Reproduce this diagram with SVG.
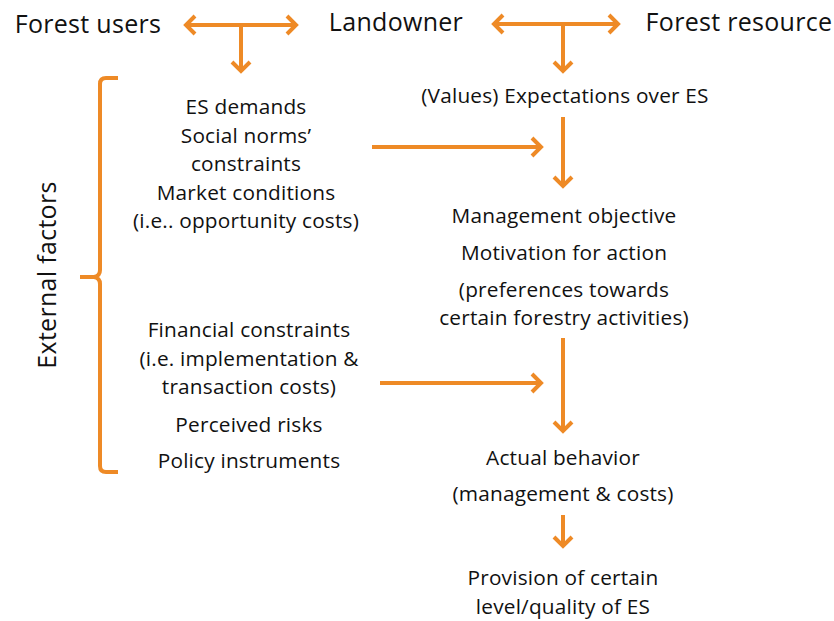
<svg xmlns="http://www.w3.org/2000/svg" width="834" height="621" viewBox="0 0 834 621">
<style>
text{font-family:"Open Sans","Noto Sans","DejaVu Sans",sans-serif;fill:#111;text-anchor:middle}
.big{font-size:25px;letter-spacing:0.3px}
.t{font-size:20.8px;letter-spacing:0.2px}
.c{stroke:#EE8A26;stroke-width:4;fill:none}
</style>
<defs>
<marker id="ah" viewBox="0 0 14 22" refX="11" refY="11" markerWidth="14" markerHeight="22" markerUnits="userSpaceOnUse" orient="auto-start-reverse">
<path d="M2,2 L11,11 L2,20" fill="none" stroke="#EE8A26" stroke-width="4"/>
</marker>
</defs>
<rect width="834" height="621" fill="#fff"/>
<g id="forest-users"><text class="big" x="88" y="33">Forest users</text></g>
<g id="landowner"><text class="big" x="396" y="31">Landowner</text></g>
<g id="forest-resource"><text class="big" x="739" y="31">Forest resource</text></g>
<g id="external-factors">
<path class="c" d="M118,78 H106 Q100,78 100,84 V270 Q100,276 94,277 H80 M94,277 Q100,278 100,284 V466 Q100,472 106,472 H118"/>
<text class="big" transform="translate(56,275) rotate(-90)">External factors</text>
</g>
<g id="drivers">
<text class="t" x="246" y="114">ES demands</text>
<text class="t" x="246" y="143">Social norms’</text>
<text class="t" x="246" y="171">constraints</text>
<text class="t" x="246" y="200">Market conditions</text>
<text class="t" x="246" y="228">(i.e.. opportunity costs)</text>
</g>
<g id="constraints">
<text class="t" x="249" y="337">Financial constraints</text>
<text class="t" x="249" y="366">(i.e. implementation &amp;</text>
<text class="t" x="249" y="394">transaction costs)</text>
<text class="t" x="249" y="432">Perceived risks</text>
<text class="t" x="249" y="468">Policy instruments</text>
</g>
<g id="expectations"><text class="t" x="565" y="103">(Values) Expectations over ES</text></g>
<g id="objective">
<text class="t" x="564" y="223">Management objective</text>
<text class="t" x="564" y="260">Motivation for action</text>
<text class="t" x="564" y="297">(preferences towards</text>
<text class="t" x="564" y="325">certain forestry activities)</text>
</g>
<g id="behavior">
<text class="t" x="563" y="465">Actual behavior</text>
<text class="t" x="563" y="501">(management &amp; costs)</text>
</g>
<g id="provision">
<text class="t" x="563" y="585">Provision of certain</text>
<text class="t" x="563" y="614">level/quality of ES</text>
</g>
<g id="connectors">
<line class="c" x1="186" y1="25" x2="296" y2="25" marker-start="url(#ah)" marker-end="url(#ah)"/>
<line class="c" x1="241" y1="25" x2="241" y2="71" marker-end="url(#ah)"/>
<line class="c" x1="494" y1="24" x2="618" y2="24" marker-start="url(#ah)" marker-end="url(#ah)"/>
<line class="c" x1="563" y1="24" x2="563" y2="71" marker-end="url(#ah)"/>
<line class="c" x1="563" y1="117" x2="563" y2="186" marker-end="url(#ah)"/>
<line class="c" x1="372" y1="147" x2="541" y2="147" marker-end="url(#ah)"/>
<line class="c" x1="563" y1="338" x2="563" y2="431" marker-end="url(#ah)"/>
<line class="c" x1="380" y1="383" x2="541" y2="383" marker-end="url(#ah)"/>
<line class="c" x1="563" y1="515" x2="563" y2="546" marker-end="url(#ah)"/>
</g>
</svg>
